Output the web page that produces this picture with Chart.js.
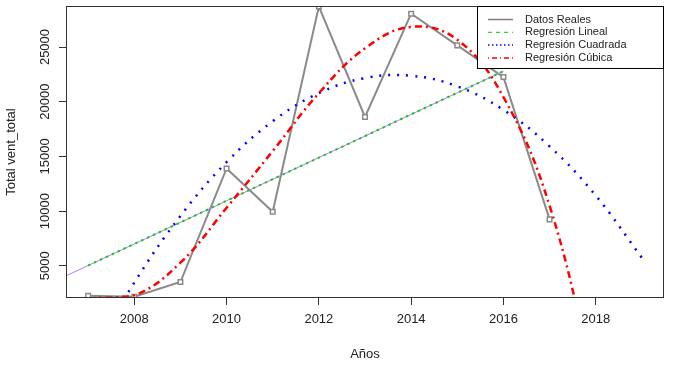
<!DOCTYPE html>
<html>
<head>
<meta charset="utf-8">
<script src="https://cdn.jsdelivr.net/npm/chart.js@4"></script>
<style>
html, body { margin: 0; padding: 0; background: #fff; }
</style>
</head>
<body>
<canvas id="chart" width="673" height="367"></canvas>
<script>
// datos
var years = [2007, 2008, 2009, 2010, 2011, 2012, 2013, 2014, 2015, 2016, 2017];
var ventas = [2250, 2170, 3510, 13900, 9940, 28700, 18600, 28050, 25150, 22250, 9240];

var linYears = [2006, 2007, 2008, 2009, 2010, 2011, 2012, 2013, 2014, 2015, 2016];
var linVals = [3040, 5020, 6990, 8960, 10940, 12910, 14890, 16860, 18840, 20810, 22780];

var quadYears = [2007, 2008, 2009, 2010, 2011, 2012, 2013, 2014, 2015, 2016, 2017, 2018, 2019];
var quadVals = [-3820, 3460, 9550, 14470, 18210, 20780, 22160, 22370, 21400, 19250, 15920, 11420, 5730];

var cubYears = [2007, 2008, 2009, 2010, 2011, 2012, 2013, 2014, 2015, 2016, 2017, 2018];
var cubVals = [2010, 2290, 5280, 10300, 15490, 20780, 24880, 26840, 25670, 20420, 10500, -6260];

var xTicks = [2008, 2010, 2012, 2014, 2016, 2018];
var yTicks = [5000, 10000, 15000, 20000, 25000];

var legendLabels = ['Datos Reales', 'Regresión Lineal', 'Regresión Cuadrada', 'Regresión Cúbica'];

function pts(xs, ys) {
    return xs.map(function (x, i) { return { x: x, y: ys[i] }; });
}

var axisFont = { family: 'Liberation Sans, Arial, sans-serif', size: 13 };

// caja del grafico y leyenda estilo R
var boxLegend = {
    id: 'boxLegend',
    afterDraw: function (chart) {
        var ctx = chart.ctx;
        var a = chart.chartArea;
        ctx.save();
        ctx.strokeStyle = '#333';
        ctx.lineWidth = 1;
        ctx.strokeRect(Math.round(a.left) + 0.5, Math.round(a.top) + 0.5,
            Math.round(a.right - a.left) - 1, Math.round(a.bottom - a.top) - 1);

        var lx = 477, ly = Math.round(a.top), lr = Math.round(a.right);
        var lh = 62;
        ctx.fillStyle = '#fff';
        ctx.fillRect(lx, ly, lr - lx, lh);
        ctx.strokeStyle = '#000';
        ctx.strokeRect(lx + 0.5, ly + 0.5, lr - lx - 1, lh);

        var styles = [
            { color: '#808080', dash: [], width: 1.5 },
            { color: '#00cc00', dash: [4, 4], width: 1 },
            { color: '#0000ff', dash: [1.5, 2.5], width: 1.5 },
            { color: '#ff0000', dash: [1, 3, 5, 3], width: 1.5 }
        ];
        ctx.font = '11px Liberation Sans, Arial, sans-serif';
        ctx.textBaseline = 'middle';
        ctx.textAlign = 'left';
        for (var i = 0; i < legendLabels.length; i++) {
            var yy = 19.5 + i * 12.8;
            ctx.beginPath();
            ctx.setLineDash(styles[i].dash);
            ctx.strokeStyle = styles[i].color;
            ctx.lineWidth = styles[i].width;
            ctx.moveTo(488, yy);
            ctx.lineTo(513, yy);
            ctx.stroke();
            ctx.setLineDash([]);
            ctx.fillStyle = '#222';
            ctx.fillText(legendLabels[i], 525, yy);
        }
        ctx.restore();
    }
};

var ctx = document.getElementById('chart').getContext('2d');

var chart = new Chart(ctx, {
    type: 'line',
    data: {
        datasets: [{
            label: legendLabels[0],
            data: pts(years, ventas),
            borderColor: '#8a8a8a',
            borderWidth: 2,
            pointStyle: 'rect',
            pointRadius: 3.2,
            pointBorderColor: '#8a8a8a',
            pointBackgroundColor: '#fff',
            pointBorderWidth: 1.5,
            tension: 0,
            clip: 0,
            order: 5
        }, {
            label: 'lin_base',
            data: pts(linYears, linVals),
            borderColor: '#b877ff',
            borderWidth: 1,
            pointRadius: 0,
            clip: 0,
            order: 4
        }, {
            label: legendLabels[1],
            data: pts(linYears.slice(1), linVals.slice(1)),
            borderColor: '#11cc11',
            borderWidth: 2,
            borderDash: [2.5, 4],
            pointRadius: 0,
            clip: 0,
            order: 3
        }, {
            label: legendLabels[2],
            data: pts(quadYears, quadVals),
            borderColor: '#0000ff',
            borderWidth: 2.5,
            borderDash: [2, 7],
            pointRadius: 0,
            tension: 0.4,
            clip: 0,
            order: 2
        }, {
            label: legendLabels[3],
            data: pts(cubYears, cubVals),
            borderColor: '#ff0000',
            borderWidth: 2.5,
            borderDash: [7, 4, 2, 4],
            pointRadius: 0,
            tension: 0.4,
            clip: 0,
            order: 1
        }]
    },
    options: {
        responsive: false,
        animation: false,
        layout: { padding: { top: 6, right: 9, left: 0, bottom: 0 } },
        plugins: {
            legend: { display: false },
            tooltip: { enabled: false }
        },
        scales: {
            x: {
                type: 'linear',
                min: 2006.52,
                max: 2019.48,
                afterBuildTicks: function (scale) {
                    scale.ticks = xTicks.map(function (v) { return { value: v }; });
                },
                afterFit: function (scale) { scale.height = 69; },
                ticks: {
                    font: axisFont,
                    color: '#222',
                    padding: 7,
                    maxRotation: 0,
                    callback: function (v) { return String(v); }
                },
                grid: {
                    drawOnChartArea: false,
                    drawTicks: true,
                    tickLength: 7,
                    tickColor: '#333'
                },
                border: { display: false },
                title: {
                    display: true,
                    text: 'Años',
                    font: axisFont,
                    color: '#222',
                    padding: { top: 0, bottom: 5 }
                }
            },
            y: {
                type: 'linear',
                min: 2050,
                max: 28750,
                afterBuildTicks: function (scale) {
                    scale.ticks = yTicks.map(function (v) { return { value: v }; });
                },
                afterFit: function (scale) { scale.width = 66; },
                ticks: {
                    font: axisFont,
                    color: '#222',
                    padding: -4,
                    minRotation: 90,
                    maxRotation: 90,
                    crossAlign: 'center',
                    callback: function (v) { return String(v); }
                },
                grid: {
                    drawOnChartArea: false,
                    drawTicks: true,
                    tickLength: 7,
                    tickColor: '#333'
                },
                border: { display: false },
                title: {
                    display: true,
                    text: 'Total vent_total',
                    font: axisFont,
                    color: '#222',
                    padding: { top: 4, bottom: 0 }
                }
            }
        }
    },
    plugins: [boxLegend]
});
</script>
</body>
</html>
